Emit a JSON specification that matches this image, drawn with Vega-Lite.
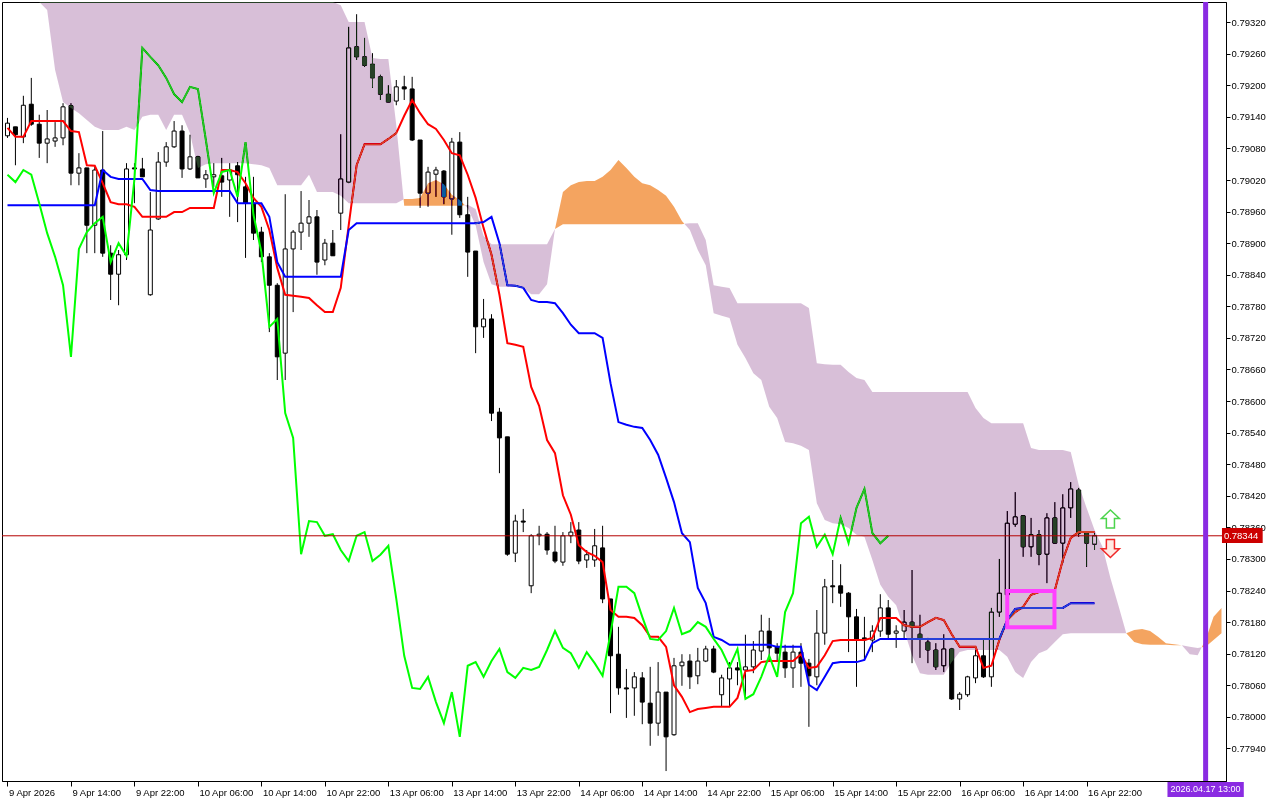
{
"$schema": "https://vega.github.io/schema/vega-lite/v6.json",
"width": 1224, "height": 779,
"autosize": {"type": "none"},
"padding": {"left": 2, "top": 2, "right": 54, "bottom": 19},
"background": "white",
"config": {
  "view": {"stroke": "black", "strokeWidth": 1},
  "axis": {"labelFont": "Liberation Sans", "labelFontSize": 9.5, "labelColor": "black", "tickColor": "black", "domainColor": "black", "grid": false, "title": null}
},
"datasets": {
"cd": [
{"i":0,"o":0.79104,"h":0.79138,"l":0.79100,"c":0.79128},
{"i":1,"o":0.79121,"h":0.79121,"l":0.79048,"c":0.79106},
{"i":2,"o":0.79102,"h":0.79180,"l":0.79090,"c":0.79162},
{"i":3,"o":0.79164,"h":0.79214,"l":0.79123,"c":0.79126},
{"i":4,"o":0.79126,"h":0.79144,"l":0.79062,"c":0.79090},
{"i":5,"o":0.79090,"h":0.79153,"l":0.79052,"c":0.79098},
{"i":6,"o":0.79094,"h":0.79130,"l":0.79083,"c":0.79100},
{"i":7,"o":0.79100,"h":0.79166,"l":0.79086,"c":0.79159},
{"i":8,"o":0.79161,"h":0.79166,"l":0.79010,"c":0.79033},
{"i":9,"o":0.79033,"h":0.79071,"l":0.79010,"c":0.79043},
{"i":10,"o":0.79043,"h":0.79043,"l":0.78881,"c":0.78934},
{"i":11,"o":0.78934,"h":0.79045,"l":0.78881,"c":0.79039},
{"i":12,"o":0.79039,"h":0.79113,"l":0.78874,"c":0.78881},
{"i":13,"o":0.78881,"h":0.78896,"l":0.78792,"c":0.78841},
{"i":14,"o":0.78841,"h":0.78887,"l":0.78782,"c":0.78878},
{"i":15,"o":0.78878,"h":0.79052,"l":0.78868,"c":0.79041},
{"i":16,"o":0.79043,"h":0.79052,"l":0.78976,"c":0.79041},
{"i":17,"o":0.79041,"h":0.79062,"l":0.79026,"c":0.79026},
{"i":18,"o":0.78802,"h":0.78997,"l":0.78800,"c":0.78925},
{"i":19,"o":0.78946,"h":0.79073,"l":0.78944,"c":0.79054},
{"i":20,"o":0.79054,"h":0.79092,"l":0.79045,"c":0.79083},
{"i":21,"o":0.79083,"h":0.79132,"l":0.79081,"c":0.79113},
{"i":22,"o":0.79113,"h":0.79124,"l":0.79024,"c":0.79041},
{"i":23,"o":0.79041,"h":0.79106,"l":0.79039,"c":0.79064},
{"i":24,"o":0.79064,"h":0.79066,"l":0.79024,"c":0.79024},
{"i":25,"o":0.79022,"h":0.79039,"l":0.79005,"c":0.79030},
{"i":26,"o":0.79026,"h":0.79052,"l":0.79007,"c":0.79030},
{"i":27,"o":0.79028,"h":0.79062,"l":0.78988,"c":0.79016},
{"i":28,"o":0.79020,"h":0.79052,"l":0.78950,"c":0.79039},
{"i":29,"o":0.79047,"h":0.79054,"l":0.78940,"c":0.79030},
{"i":30,"o":0.79007,"h":0.79026,"l":0.78872,"c":0.78976},
{"i":31,"o":0.78976,"h":0.79026,"l":0.78906,"c":0.78919},
{"i":32,"o":0.78921,"h":0.78931,"l":0.78864,"c":0.78874},
{"i":33,"o":0.78874,"h":0.78881,"l":0.78731,"c":0.78820},
{"i":34,"o":0.78820,"h":0.78824,"l":0.78640,"c":0.78684},
{"i":35,"o":0.78691,"h":0.78993,"l":0.78640,"c":0.78889},
{"i":36,"o":0.78889,"h":0.78925,"l":0.78769,"c":0.78921},
{"i":37,"o":0.78921,"h":0.78999,"l":0.78887,"c":0.78938},
{"i":38,"o":0.78938,"h":0.78982,"l":0.78912,"c":0.78950},
{"i":39,"o":0.78950,"h":0.78963,"l":0.78840,"c":0.78864},
{"i":40,"o":0.78868,"h":0.78908,"l":0.78858,"c":0.78900},
{"i":41,"o":0.78900,"h":0.78925,"l":0.78876,"c":0.78876},
{"i":42,"o":0.78957,"h":0.79107,"l":0.78925,"c":0.79022},
{"i":43,"o":0.79016,"h":0.79311,"l":0.79014,"c":0.79271},
{"i":44,"o":0.79273,"h":0.79335,"l":0.79248,"c":0.79254},
{"i":45,"o":0.79254,"h":0.79290,"l":0.79235,"c":0.79238},
{"i":46,"o":0.79240,"h":0.79261,"l":0.79195,"c":0.79214},
{"i":47,"o":0.79216,"h":0.79220,"l":0.79172,"c":0.79183},
{"i":48,"o":0.79183,"h":0.79200,"l":0.79168,"c":0.79168},
{"i":49,"o":0.79170,"h":0.79210,"l":0.79162,"c":0.79197},
{"i":50,"o":0.79197,"h":0.79218,"l":0.79172,"c":0.79193},
{"i":51,"o":0.79193,"h":0.79216,"l":0.79094,"c":0.79096},
{"i":52,"o":0.79096,"h":0.79096,"l":0.78967,"c":0.78995},
{"i":53,"o":0.78995,"h":0.79045,"l":0.78969,"c":0.79035},
{"i":54,"o":0.79031,"h":0.79045,"l":0.78988,"c":0.79039},
{"i":55,"o":0.79037,"h":0.79039,"l":0.78974,"c":0.78988},
{"i":56,"o":0.78984,"h":0.79100,"l":0.78916,"c":0.79092},
{"i":57,"o":0.79092,"h":0.79111,"l":0.78948,"c":0.78954},
{"i":58,"o":0.78954,"h":0.78988,"l":0.78836,"c":0.78883},
{"i":59,"o":0.78885,"h":0.78885,"l":0.78691,"c":0.78741},
{"i":60,"o":0.78741,"h":0.78794,"l":0.78720,"c":0.78756},
{"i":61,"o":0.78756,"h":0.78765,"l":0.78562,"c":0.78577},
{"i":62,"o":0.78579,"h":0.78587,"l":0.78463,"c":0.78530},
{"i":63,"o":0.78532,"h":0.78532,"l":0.78306,"c":0.78309},
{"i":64,"o":0.78311,"h":0.78384,"l":0.78294,"c":0.78372},
{"i":65,"o":0.78372,"h":0.78395,"l":0.78351,"c":0.78370},
{"i":66,"o":0.78249,"h":0.78347,"l":0.78235,"c":0.78344},
{"i":67,"o":0.78344,"h":0.78363,"l":0.78326,"c":0.78347},
{"i":68,"o":0.78347,"h":0.78351,"l":0.78308,"c":0.78317},
{"i":69,"o":0.78313,"h":0.78363,"l":0.78292,"c":0.78296},
{"i":70,"o":0.78294,"h":0.78351,"l":0.78287,"c":0.78344},
{"i":71,"o":0.78344,"h":0.78370,"l":0.78330,"c":0.78351},
{"i":72,"o":0.78355,"h":0.78370,"l":0.78290,"c":0.78296},
{"i":73,"o":0.78298,"h":0.78317,"l":0.78283,"c":0.78308},
{"i":74,"o":0.78298,"h":0.78357,"l":0.78285,"c":0.78325},
{"i":75,"o":0.78321,"h":0.78363,"l":0.78216,"c":0.78224},
{"i":76,"o":0.78224,"h":0.78224,"l":0.78007,"c":0.78116},
{"i":77,"o":0.78119,"h":0.78171,"l":0.78042,"c":0.78055},
{"i":78,"o":0.78055,"h":0.78091,"l":0.77998,"c":0.78053},
{"i":79,"o":0.78055,"h":0.78085,"l":0.78002,"c":0.78076},
{"i":80,"o":0.78074,"h":0.78085,"l":0.77986,"c":0.78028},
{"i":81,"o":0.78026,"h":0.78095,"l":0.77945,"c":0.77988},
{"i":82,"o":0.77988,"h":0.78104,"l":0.77964,"c":0.78047},
{"i":83,"o":0.78047,"h":0.78047,"l":0.77897,"c":0.77962},
{"i":84,"o":0.77966,"h":0.78112,"l":0.77964,"c":0.78097},
{"i":85,"o":0.78097,"h":0.78119,"l":0.78059,"c":0.78104},
{"i":86,"o":0.78106,"h":0.78119,"l":0.78053,"c":0.78076},
{"i":87,"o":0.78078,"h":0.78131,"l":0.78062,"c":0.78106},
{"i":88,"o":0.78106,"h":0.78135,"l":0.78104,"c":0.78129},
{"i":89,"o":0.78129,"h":0.78135,"l":0.78083,"c":0.78085},
{"i":90,"o":0.78042,"h":0.78080,"l":0.78019,"c":0.78074},
{"i":91,"o":0.78072,"h":0.78104,"l":0.78019,"c":0.78093},
{"i":92,"o":0.78093,"h":0.78104,"l":0.78060,"c":0.78089},
{"i":93,"o":0.78089,"h":0.78156,"l":0.78038,"c":0.78095},
{"i":94,"o":0.78095,"h":0.78144,"l":0.78083,"c":0.78127},
{"i":95,"o":0.78125,"h":0.78194,"l":0.78108,"c":0.78163},
{"i":96,"o":0.78163,"h":0.78188,"l":0.78108,"c":0.78131},
{"i":97,"o":0.78133,"h":0.78140,"l":0.78108,"c":0.78121},
{"i":98,"o":0.78123,"h":0.78137,"l":0.78074,"c":0.78093},
{"i":99,"o":0.78093,"h":0.78137,"l":0.78055,"c":0.78123},
{"i":100,"o":0.78123,"h":0.78140,"l":0.78057,"c":0.78102},
{"i":101,"o":0.78102,"h":0.78110,"l":0.77981,"c":0.78078},
{"i":102,"o":0.78076,"h":0.78203,"l":0.78060,"c":0.78159},
{"i":103,"o":0.78159,"h":0.78262,"l":0.78137,"c":0.78247},
{"i":104,"o":0.78249,"h":0.78298,"l":0.78216,"c":0.78247},
{"i":105,"o":0.78249,"h":0.78290,"l":0.78209,"c":0.78235},
{"i":106,"o":0.78235,"h":0.78237,"l":0.78123,"c":0.78190},
{"i":107,"o":0.78190,"h":0.78205,"l":0.78057,"c":0.78148},
{"i":108,"o":0.78150,"h":0.78190,"l":0.78108,"c":0.78146},
{"i":109,"o":0.78146,"h":0.78174,"l":0.78123,"c":0.78163},
{"i":110,"o":0.78163,"h":0.78233,"l":0.78152,"c":0.78207},
{"i":111,"o":0.78207,"h":0.78222,"l":0.78146,"c":0.78157},
{"i":112,"o":0.78159,"h":0.78174,"l":0.78131,"c":0.78163},
{"i":113,"o":0.78163,"h":0.78203,"l":0.78146,"c":0.78180},
{"i":114,"o":0.78180,"h":0.78279,"l":0.78102,"c":0.78171},
{"i":115,"o":0.78157,"h":0.78194,"l":0.78112,"c":0.78148},
{"i":116,"o":0.78142,"h":0.78150,"l":0.78102,"c":0.78127},
{"i":117,"o":0.78127,"h":0.78140,"l":0.78089,"c":0.78095},
{"i":118,"o":0.78097,"h":0.78157,"l":0.78085,"c":0.78129},
{"i":119,"o":0.78129,"h":0.78131,"l":0.78032,"c":0.78034},
{"i":120,"o":0.78034,"h":0.78047,"l":0.78013,"c":0.78043},
{"i":121,"o":0.78042,"h":0.78078,"l":0.78038,"c":0.78076},
{"i":122,"o":0.78074,"h":0.78127,"l":0.78064,"c":0.78116},
{"i":123,"o":0.78116,"h":0.78146,"l":0.78074,"c":0.78076},
{"i":124,"o":0.78076,"h":0.78207,"l":0.78057,"c":0.78199},
{"i":125,"o":0.78199,"h":0.78300,"l":0.78190,"c":0.78235},
{"i":126,"o":0.78232,"h":0.78391,"l":0.78222,"c":0.78368},
{"i":127,"o":0.78366,"h":0.78427,"l":0.78361,"c":0.78380},
{"i":128,"o":0.78382,"h":0.78382,"l":0.78304,"c":0.78323},
{"i":129,"o":0.78323,"h":0.78378,"l":0.78304,"c":0.78346},
{"i":130,"o":0.78346,"h":0.78355,"l":0.78288,"c":0.78309},
{"i":131,"o":0.78309,"h":0.78387,"l":0.78254,"c":0.78378},
{"i":132,"o":0.78378,"h":0.78408,"l":0.78330,"c":0.78330},
{"i":133,"o":0.78330,"h":0.78423,"l":0.78292,"c":0.78397},
{"i":134,"o":0.78397,"h":0.78446,"l":0.78378,"c":0.78433},
{"i":135,"o":0.78431,"h":0.78435,"l":0.78342,"c":0.78349},
{"i":136,"o":0.78349,"h":0.78349,"l":0.78285,"c":0.78330},
{"i":137,"o":0.78328,"h":0.78349,"l":0.78317,"c":0.78344}
],
"tk": [
{"i":0,"t":0.79119,"k":0.78972},{"i":1,"t":0.79102,"k":0.78972},{"i":2,"t":0.79102,"k":0.78972},{"i":3,"t":0.79132,"k":0.78972},
{"i":4,"t":0.79132,"k":0.78972},{"i":5,"t":0.79132,"k":0.78972},{"i":6,"t":0.79132,"k":0.78972},{"i":7,"t":0.79132,"k":0.78972},
{"i":8,"t":0.79113,"k":0.78972},{"i":9,"t":0.79111,"k":0.78972},{"i":10,"t":0.79048,"k":0.78972},{"i":11,"t":0.79047,"k":0.78972},
{"i":12,"t":0.79014,"k":0.79039},{"i":13,"t":0.78978,"k":0.79026},{"i":14,"t":0.78974,"k":0.79022},{"i":15,"t":0.78974,"k":0.79022},
{"i":16,"t":0.78969,"k":0.79022},{"i":17,"t":0.78950,"k":0.79022},{"i":18,"t":0.78950,"k":0.79001},{"i":19,"t":0.78950,"k":0.78999},
{"i":20,"t":0.78950,"k":0.78999},{"i":21,"t":0.78959,"k":0.78999},{"i":22,"t":0.78959,"k":0.78999},{"i":23,"t":0.78967,"k":0.78999},
{"i":24,"t":0.78967,"k":0.78999},{"i":25,"t":0.78967,"k":0.78999},{"i":26,"t":0.78967,"k":0.78999},{"i":27,"t":0.79039,"k":0.78999},
{"i":28,"t":0.79039,"k":0.78999},{"i":29,"t":0.79035,"k":0.78976},{"i":30,"t":0.79014,"k":0.78976},{"i":31,"t":0.78986,"k":0.78976},
{"i":32,"t":0.78969,"k":0.78976},{"i":33,"t":0.78925,"k":0.78950},{"i":34,"t":0.78853,"k":0.78864},{"i":35,"t":0.78802,"k":0.78836},
{"i":36,"t":0.78800,"k":0.78836},{"i":37,"t":0.78798,"k":0.78836},{"i":38,"t":0.78796,"k":0.78836},{"i":39,"t":0.78782,"k":0.78836},
{"i":40,"t":0.78769,"k":0.78836},{"i":41,"t":0.78769,"k":0.78836},{"i":42,"t":0.78815,"k":0.78836},{"i":43,"t":0.78934,"k":0.78925},
{"i":44,"t":0.79048,"k":0.78938},{"i":45,"t":0.79088,"k":0.78938},{"i":46,"t":0.79088,"k":0.78938},{"i":47,"t":0.79088,"k":0.78938},
{"i":48,"t":0.79098,"k":0.78938},{"i":49,"t":0.79109,"k":0.78938},{"i":50,"t":0.79142,"k":0.78938},{"i":51,"t":0.79172,"k":0.78938},
{"i":52,"t":0.79147,"k":0.78938},{"i":53,"t":0.79126,"k":0.78938},{"i":54,"t":0.79117,"k":0.78938},{"i":55,"t":0.79096,"k":0.78938},
{"i":56,"t":0.79071,"k":0.78938},{"i":57,"t":0.79067,"k":0.78938},{"i":58,"t":0.79030,"k":0.78938},{"i":59,"t":0.78986,"k":0.78938},
{"i":60,"t":0.78929,"k":0.78940},{"i":61,"t":0.78878,"k":0.78950},{"i":62,"t":0.78802,"k":0.78900},{"i":63,"t":0.78710,"k":0.78820},
{"i":64,"t":0.78707,"k":0.78819},{"i":65,"t":0.78703,"k":0.78815},{"i":66,"t":0.78627,"k":0.78792},{"i":67,"t":0.78591,"k":0.78788},
{"i":68,"t":0.78526,"k":0.78788},{"i":69,"t":0.78501,"k":0.78786},{"i":70,"t":0.78421,"k":0.78767},{"i":71,"t":0.78384,"k":0.78745},
{"i":72,"t":0.78326,"k":0.78729},{"i":73,"t":0.78313,"k":0.78729},{"i":74,"t":0.78306,"k":0.78729},{"i":75,"t":0.78294,"k":0.78720},
{"i":76,"t":0.78203,"k":0.78634},{"i":77,"t":0.78190,"k":0.78560},{"i":78,"t":0.78190,"k":0.78555},{"i":79,"t":0.78188,"k":0.78551},
{"i":80,"t":0.78174,"k":0.78549},{"i":81,"t":0.78152,"k":0.78526},{"i":82,"t":0.78152,"k":0.78498},{"i":83,"t":0.78133,"k":0.78454},
{"i":84,"t":0.78060,"k":0.78408},{"i":85,"t":0.78038,"k":0.78349},{"i":86,"t":0.78009,"k":0.78332},{"i":87,"t":0.78015,"k":0.78245},
{"i":88,"t":0.78017,"k":0.78216},{"i":89,"t":0.78019,"k":0.78152},{"i":90,"t":0.78019,"k":0.78146},{"i":91,"t":0.78019,"k":0.78137},
{"i":92,"t":0.78036,"k":0.78137},{"i":93,"t":0.78087,"k":0.78137},{"i":94,"t":0.78089,"k":0.78137},{"i":95,"t":0.78104,"k":0.78137},
{"i":96,"t":0.78106,"k":0.78137},{"i":97,"t":0.78106,"k":0.78133},{"i":98,"t":0.78106,"k":0.78133},{"i":99,"t":0.78106,"k":0.78133},
{"i":100,"t":0.78119,"k":0.78133},{"i":101,"t":0.78093,"k":0.78061},{"i":102,"t":0.78095,"k":0.78051},{"i":103,"t":0.78117,"k":0.78076},
{"i":104,"t":0.78144,"k":0.78102},{"i":105,"t":0.78146,"k":0.78104},{"i":106,"t":0.78146,"k":0.78104},{"i":107,"t":0.78146,"k":0.78104},
{"i":108,"t":0.78146,"k":0.78108},{"i":109,"t":0.78150,"k":0.78140},{"i":110,"t":0.78188,"k":0.78148},{"i":111,"t":0.78188,"k":0.78148},
{"i":112,"t":0.78188,"k":0.78148},{"i":113,"t":0.78174,"k":0.78148},{"i":114,"t":0.78171,"k":0.78148},{"i":115,"t":0.78171,"k":0.78148},
{"i":116,"t":0.78180,"k":0.78148},{"i":117,"t":0.78188,"k":0.78148},{"i":118,"t":0.78184,"k":0.78148},{"i":119,"t":0.78157,"k":0.78148},
{"i":120,"t":0.78133,"k":0.78148},{"i":121,"t":0.78133,"k":0.78148},{"i":122,"t":0.78133,"k":0.78148},{"i":123,"t":0.78093,"k":0.78148},
{"i":124,"t":0.78097,"k":0.78148},{"i":125,"t":0.78146,"k":0.78148},{"i":126,"t":0.78184,"k":0.78184},{"i":127,"t":0.78199,"k":0.78205},
{"i":128,"t":0.78209,"k":0.78207},{"i":129,"t":0.78232,"k":0.78207},{"i":130,"t":0.78237,"k":0.78207},{"i":131,"t":0.78239,"k":0.78207},
{"i":132,"t":0.78241,"k":0.78207},{"i":133,"t":0.78298,"k":0.78207},{"i":134,"t":0.78340,"k":0.78216},{"i":135,"t":0.78351,"k":0.78216},
{"i":136,"t":0.78351,"k":0.78216},{"i":137,"t":0.78351,"k":0.78216}
],
"ch": [
{"i":0,"v":0.79030},{"i":1,"v":0.79016},{"i":2,"v":0.79039},{"i":3,"v":0.79030},{"i":4,"v":0.78976},{"i":5,"v":0.78919},
{"i":6,"v":0.78874},{"i":7,"v":0.78820},{"i":8,"v":0.78684},{"i":9,"v":0.78889},{"i":10,"v":0.78921},{"i":11,"v":0.78938},
{"i":12,"v":0.78950},{"i":13,"v":0.78864},{"i":14,"v":0.78900},{"i":15,"v":0.78876},{"i":16,"v":0.79022},{"i":17,"v":0.79271},
{"i":18,"v":0.79254},{"i":19,"v":0.79238},{"i":20,"v":0.79214},{"i":21,"v":0.79183},{"i":22,"v":0.79168},{"i":23,"v":0.79197},
{"i":24,"v":0.79193},{"i":25,"v":0.79096},{"i":26,"v":0.78995},{"i":27,"v":0.79035},{"i":28,"v":0.79039},{"i":29,"v":0.78988},
{"i":30,"v":0.79092},{"i":31,"v":0.78954},{"i":32,"v":0.78883},{"i":33,"v":0.78741},{"i":34,"v":0.78756},{"i":35,"v":0.78577},
{"i":36,"v":0.78530},{"i":37,"v":0.78309},{"i":38,"v":0.78372},{"i":39,"v":0.78370},{"i":40,"v":0.78344},{"i":41,"v":0.78347},
{"i":42,"v":0.78317},{"i":43,"v":0.78296},{"i":44,"v":0.78344},{"i":45,"v":0.78351},{"i":46,"v":0.78296},{"i":47,"v":0.78308},
{"i":48,"v":0.78325},{"i":49,"v":0.78224},{"i":50,"v":0.78116},{"i":51,"v":0.78055},{"i":52,"v":0.78053},{"i":53,"v":0.78076},
{"i":54,"v":0.78028},{"i":55,"v":0.77988},{"i":56,"v":0.78047},{"i":57,"v":0.77962},{"i":58,"v":0.78097},{"i":59,"v":0.78104},
{"i":60,"v":0.78076},{"i":61,"v":0.78106},{"i":62,"v":0.78129},{"i":63,"v":0.78085},{"i":64,"v":0.78074},{"i":65,"v":0.78093},
{"i":66,"v":0.78089},{"i":67,"v":0.78095},{"i":68,"v":0.78127},{"i":69,"v":0.78163},{"i":70,"v":0.78131},{"i":71,"v":0.78121},
{"i":72,"v":0.78093},{"i":73,"v":0.78123},{"i":74,"v":0.78102},{"i":75,"v":0.78078},{"i":76,"v":0.78159},{"i":77,"v":0.78247},
{"i":78,"v":0.78247},{"i":79,"v":0.78235},{"i":80,"v":0.78190},{"i":81,"v":0.78148},{"i":82,"v":0.78146},{"i":83,"v":0.78163},
{"i":84,"v":0.78207},{"i":85,"v":0.78157},{"i":86,"v":0.78163},{"i":87,"v":0.78180},{"i":88,"v":0.78171},{"i":89,"v":0.78148},
{"i":90,"v":0.78127},{"i":91,"v":0.78095},{"i":92,"v":0.78129},{"i":93,"v":0.78034},{"i":94,"v":0.78043},{"i":95,"v":0.78076},
{"i":96,"v":0.78116},{"i":97,"v":0.78076},{"i":98,"v":0.78199},{"i":99,"v":0.78235},{"i":100,"v":0.78368},{"i":101,"v":0.78380},
{"i":102,"v":0.78323},{"i":103,"v":0.78346},{"i":104,"v":0.78309},{"i":105,"v":0.78378},{"i":106,"v":0.78330},{"i":107,"v":0.78397},
{"i":108,"v":0.78433},{"i":109,"v":0.78349},{"i":110,"v":0.78330},{"i":111,"v":0.78344}
],
"cl": [
{"s":1,"k":"B","i":0,"a":0.79358,"b":0.79358},{"s":1,"k":"B","i":1,"a":0.79358,"b":0.79358},{"s":1,"k":"B","i":2,"a":0.79358,"b":0.79358},
{"s":1,"k":"B","i":3,"a":0.79358,"b":0.79358},{"s":1,"k":"B","i":4,"a":0.79358,"b":0.79358},{"s":1,"k":"B","i":5,"a":0.79343,"b":0.79358},
{"s":1,"k":"B","i":6,"a":0.79229,"b":0.79358},{"s":1,"k":"B","i":7,"a":0.79168,"b":0.79358},{"s":1,"k":"B","i":8,"a":0.79157,"b":0.79358},
{"s":1,"k":"B","i":9,"a":0.79147,"b":0.79358},{"s":1,"k":"B","i":10,"a":0.79134,"b":0.79358},{"s":1,"k":"B","i":11,"a":0.79121,"b":0.79358},
{"s":1,"k":"B","i":12,"a":0.79115,"b":0.79358},{"s":1,"k":"B","i":13,"a":0.79115,"b":0.79358},{"s":1,"k":"B","i":14,"a":0.79115,"b":0.79358},
{"s":1,"k":"B","i":15,"a":0.79121,"b":0.79358},{"s":1,"k":"B","i":16,"a":0.79115,"b":0.79358},{"s":1,"k":"B","i":17,"a":0.79140,"b":0.79358},
{"s":1,"k":"B","i":18,"a":0.79144,"b":0.79358},{"s":1,"k":"B","i":19,"a":0.79144,"b":0.79358},{"s":1,"k":"B","i":20,"a":0.79115,"b":0.79358},
{"s":1,"k":"B","i":21,"a":0.79144,"b":0.79358},{"s":1,"k":"B","i":22,"a":0.79144,"b":0.79358},{"s":1,"k":"B","i":23,"a":0.79109,"b":0.79358},
{"s":1,"k":"B","i":24,"a":0.79043,"b":0.79358},{"s":1,"k":"B","i":25,"a":0.79050,"b":0.79358},{"s":1,"k":"B","i":26,"a":0.79052,"b":0.79358},
{"s":1,"k":"B","i":27,"a":0.79052,"b":0.79358},{"s":1,"k":"B","i":28,"a":0.79052,"b":0.79358},{"s":1,"k":"B","i":29,"a":0.79052,"b":0.79358},
{"s":1,"k":"B","i":30,"a":0.79052,"b":0.79358},{"s":1,"k":"B","i":31,"a":0.79050,"b":0.79358},{"s":1,"k":"B","i":32,"a":0.79048,"b":0.79358},
{"s":1,"k":"B","i":33,"a":0.79043,"b":0.79358},{"s":1,"k":"B","i":34,"a":0.79010,"b":0.79358},{"s":1,"k":"B","i":35,"a":0.79010,"b":0.79358},
{"s":1,"k":"B","i":36,"a":0.79010,"b":0.79358},{"s":1,"k":"B","i":37,"a":0.79010,"b":0.79358},{"s":1,"k":"B","i":38,"a":0.79030,"b":0.79358},
{"s":1,"k":"B","i":39,"a":0.78997,"b":0.79358},{"s":1,"k":"B","i":40,"a":0.78997,"b":0.79358},{"s":1,"k":"B","i":41,"a":0.78997,"b":0.79358},
{"s":1,"k":"B","i":42,"a":0.78990,"b":0.79352},{"s":1,"k":"B","i":43,"a":0.78976,"b":0.79320},{"s":1,"k":"B","i":44,"a":0.78976,"b":0.79320},
{"s":1,"k":"B","i":45,"a":0.78976,"b":0.79320},{"s":1,"k":"B","i":46,"a":0.78976,"b":0.79252},{"s":1,"k":"B","i":47,"a":0.78976,"b":0.79250},
{"s":1,"k":"B","i":48,"a":0.78976,"b":0.79250},{"s":1,"k":"B","i":49,"a":0.78976,"b":0.79124},{"s":1,"k":"B","i":49.92,"a":0.78983,"b":0.78983},
{"s":2,"k":"A","i":49.92,"a":0.78983,"b":0.78983},{"s":2,"k":"A","i":50,"a":0.78984,"b":0.78971},{"s":2,"k":"A","i":51,"a":0.78984,"b":0.78971},
{"s":2,"k":"A","i":52,"a":0.78986,"b":0.78971},{"s":2,"k":"A","i":53,"a":0.79014,"b":0.78971},{"s":2,"k":"A","i":54,"a":0.79020,"b":0.78971},
{"s":2,"k":"A","i":55,"a":0.79012,"b":0.78971},{"s":2,"k":"A","i":56,"a":0.78992,"b":0.78971},{"s":2,"k":"A","i":57,"a":0.78982,"b":0.78971},
{"s":2,"k":"A","i":57.65,"a":0.78972,"b":0.78972},
{"s":3,"k":"B","i":57.65,"a":0.78972,"b":0.78972},{"s":3,"k":"B","i":58,"a":0.78967,"b":0.78973},{"s":3,"k":"B","i":59,"a":0.78934,"b":0.78965},
{"s":3,"k":"B","i":60,"a":0.78864,"b":0.78914},{"s":3,"k":"B","i":61,"a":0.78822,"b":0.78898},{"s":3,"k":"B","i":62,"a":0.78817,"b":0.78898},
{"s":3,"k":"B","i":63,"a":0.78817,"b":0.78898},{"s":3,"k":"B","i":64,"a":0.78817,"b":0.78898},{"s":3,"k":"B","i":65,"a":0.78815,"b":0.78898},
{"s":3,"k":"B","i":66,"a":0.78803,"b":0.78898},{"s":3,"k":"B","i":67,"a":0.78803,"b":0.78898},{"s":3,"k":"B","i":68,"a":0.78822,"b":0.78898},
{"s":3,"k":"B","i":69,"a":0.78927,"b":0.78927},
{"s":4,"k":"A","i":69,"a":0.78927,"b":0.78927},{"s":4,"k":"A","i":70,"a":0.78997,"b":0.78936},{"s":4,"k":"A","i":71,"a":0.79010,"b":0.78936},
{"s":4,"k":"A","i":72,"a":0.79016,"b":0.78936},{"s":4,"k":"A","i":73,"a":0.79018,"b":0.78936},{"s":4,"k":"A","i":74,"a":0.79018,"b":0.78936},
{"s":4,"k":"A","i":75,"a":0.79026,"b":0.78936},{"s":4,"k":"A","i":76,"a":0.79039,"b":0.78936},{"s":4,"k":"A","i":77,"a":0.79058,"b":0.78936},
{"s":4,"k":"A","i":78,"a":0.79043,"b":0.78936},{"s":4,"k":"A","i":79,"a":0.79026,"b":0.78936},{"s":4,"k":"A","i":80,"a":0.79014,"b":0.78936},
{"s":4,"k":"A","i":81,"a":0.79010,"b":0.78936},{"s":4,"k":"A","i":82,"a":0.79001,"b":0.78936},{"s":4,"k":"A","i":83,"a":0.78990,"b":0.78936},
{"s":4,"k":"A","i":84,"a":0.78969,"b":0.78936},{"s":4,"k":"A","i":85,"a":0.78942,"b":0.78936},{"s":4,"k":"A","i":85.3,"a":0.78937,"b":0.78937},
{"s":5,"k":"B","i":85.3,"a":0.78937,"b":0.78937},{"s":5,"k":"B","i":86,"a":0.78925,"b":0.78938},{"s":5,"k":"B","i":87,"a":0.78887,"b":0.78938},
{"s":5,"k":"B","i":88,"a":0.78858,"b":0.78906},{"s":5,"k":"B","i":89,"a":0.78767,"b":0.78820},{"s":5,"k":"B","i":90,"a":0.78762,"b":0.78817},
{"s":5,"k":"B","i":91,"a":0.78758,"b":0.78815},{"s":5,"k":"B","i":92,"a":0.78707,"b":0.78786},{"s":5,"k":"B","i":93,"a":0.78682,"b":0.78786},
{"s":5,"k":"B","i":94,"a":0.78653,"b":0.78786},{"s":5,"k":"B","i":95,"a":0.78640,"b":0.78786},{"s":5,"k":"B","i":96,"a":0.78589,"b":0.78786},
{"s":5,"k":"B","i":97,"a":0.78568,"b":0.78786},{"s":5,"k":"B","i":98,"a":0.78522,"b":0.78786},{"s":5,"k":"B","i":99,"a":0.78520,"b":0.78786},
{"s":5,"k":"B","i":100,"a":0.78515,"b":0.78786},{"s":5,"k":"B","i":101,"a":0.78507,"b":0.78777},{"s":5,"k":"B","i":102,"a":0.78406,"b":0.78672},
{"s":5,"k":"B","i":103,"a":0.78374,"b":0.78670},{"s":5,"k":"B","i":104,"a":0.78368,"b":0.78669},{"s":5,"k":"B","i":105,"a":0.78366,"b":0.78669},
{"s":5,"k":"B","i":106,"a":0.78359,"b":0.78655},{"s":5,"k":"B","i":107,"a":0.78346,"b":0.78644},{"s":5,"k":"B","i":108,"a":0.78342,"b":0.78640},
{"s":5,"k":"B","i":109,"a":0.78298,"b":0.78617},{"s":5,"k":"B","i":110,"a":0.78251,"b":0.78617},{"s":5,"k":"B","i":111,"a":0.78228,"b":0.78617},
{"s":5,"k":"B","i":112,"a":0.78212,"b":0.78617},{"s":5,"k":"B","i":113,"a":0.78165,"b":0.78617},{"s":5,"k":"B","i":114,"a":0.78117,"b":0.78617},
{"s":5,"k":"B","i":115,"a":0.78083,"b":0.78617},{"s":5,"k":"B","i":116,"a":0.78080,"b":0.78617},{"s":5,"k":"B","i":117,"a":0.78080,"b":0.78617},
{"s":5,"k":"B","i":118,"a":0.78080,"b":0.78617},{"s":5,"k":"B","i":119,"a":0.78104,"b":0.78617},{"s":5,"k":"B","i":120,"a":0.78123,"b":0.78617},
{"s":5,"k":"B","i":121,"a":0.78127,"b":0.78617},{"s":5,"k":"B","i":122,"a":0.78127,"b":0.78587},{"s":5,"k":"B","i":123,"a":0.78127,"b":0.78568},
{"s":5,"k":"B","i":124,"a":0.78127,"b":0.78558},{"s":5,"k":"B","i":125,"a":0.78127,"b":0.78558},{"s":5,"k":"B","i":126,"a":0.78114,"b":0.78558},
{"s":5,"k":"B","i":127,"a":0.78085,"b":0.78558},{"s":5,"k":"B","i":128,"a":0.78074,"b":0.78558},{"s":5,"k":"B","i":129,"a":0.78104,"b":0.78511},
{"s":5,"k":"B","i":130,"a":0.78121,"b":0.78507},{"s":5,"k":"B","i":131,"a":0.78127,"b":0.78507},{"s":5,"k":"B","i":132,"a":0.78142,"b":0.78507},
{"s":5,"k":"B","i":133,"a":0.78157,"b":0.78507},{"s":5,"k":"B","i":134,"a":0.78159,"b":0.78503},{"s":5,"k":"B","i":135,"a":0.78159,"b":0.78441},
{"s":5,"k":"B","i":136,"a":0.78159,"b":0.78397},{"s":5,"k":"B","i":137,"a":0.78159,"b":0.78355},{"s":5,"k":"B","i":138,"a":0.78159,"b":0.78323},
{"s":5,"k":"B","i":139,"a":0.78159,"b":0.78264},{"s":5,"k":"B","i":140,"a":0.78159,"b":0.78212},{"s":5,"k":"B","i":141,"a":0.78159,"b":0.78159},
{"s":6,"k":"A","i":141,"a":0.78159,"b":0.78159},{"s":6,"k":"A","i":142,"a":0.78165,"b":0.78142},{"s":6,"k":"A","i":143,"a":0.78167,"b":0.78138},
{"s":6,"k":"A","i":144,"a":0.78163,"b":0.78137},{"s":6,"k":"A","i":145,"a":0.78152,"b":0.78137},{"s":6,"k":"A","i":146,"a":0.78140,"b":0.78137},
{"s":6,"k":"A","i":147,"a":0.78138,"b":0.78136},{"s":6,"k":"A","i":148,"a":0.78136,"b":0.78136},
{"s":7,"k":"B","i":148,"a":0.78136,"b":0.78136},{"s":7,"k":"B","i":149,"a":0.78119,"b":0.78133},{"s":7,"k":"B","i":150,"a":0.78117,"b":0.78131},
{"s":7,"k":"B","i":150.5,"a":0.78132,"b":0.78132},
{"s":8,"k":"A","i":150.5,"a":0.78132,"b":0.78132},{"s":8,"k":"A","i":151,"a":0.78146,"b":0.78133},{"s":8,"k":"A","i":152,"a":0.78190,"b":0.78146},
{"s":8,"k":"A","i":153,"a":0.78207,"b":0.78159}
]
},
"layer": [
{
  "data": {"name": "cd"},
  "mark": {"type": "rule", "color": "black", "strokeWidth": 1, "clip": true},
  "encoding": {
    "x": {"field": "i", "type": "quantitative", "scale": {"domain": [-0.0625, 152.9375], "nice": false, "zero": false},
      "axis": {"values": [0,8,16,24,32,40,48,56,64,72,80,88,96,104,112,120,128,136], "labelExpr": "['9 Apr 2026','9 Apr 14:00','9 Apr 22:00','10 Apr 06:00','10 Apr 14:00','10 Apr 22:00','13 Apr 06:00','13 Apr 14:00','13 Apr 22:00','14 Apr 06:00','14 Apr 14:00','14 Apr 22:00','15 Apr 06:00','15 Apr 14:00','15 Apr 22:00','16 Apr 06:00','16 Apr 14:00','16 Apr 22:00'][round(datum.value/8)]", "labelAlign": "left", "labelBaseline": "top", "labelPadding": 1, "labelOffset": 1, "tickSize": 5, "labelOverlap": false, "labelBound": false, "labelFlush": false, "title": null}},
    "y": {"field": "l", "type": "quantitative", "scale": {"domain": [0.778781, 0.793582], "nice": false, "zero": false},
      "axis": {"orient": "right", "values": [0.7794,0.78,0.7806,0.7812,0.7818,0.7824,0.783,0.7836,0.7842,0.7848,0.7854,0.786,0.7866,0.7872,0.7878,0.7884,0.789,0.7896,0.7902,0.7908,0.7914,0.792,0.7926,0.7932], "format": ".5f", "tickSize": 4, "labelPadding": 1, "labelOverlap": false, "labelBound": false, "labelFlush": false, "title": null}},
    "y2": {"field": "h"}
  }
},
{
  "data": {"name": "cd"},
  "mark": {"type": "bar", "width": 4, "stroke": "black", "strokeWidth": 1, "clip": true},
  "encoding": {
    "x": {"field": "i", "type": "quantitative", "scale": {"domain": [-0.0625, 152.9375], "nice": false, "zero": false},
      "axis": {"values": [0,8,16,24,32,40,48,56,64,72,80,88,96,104,112,120,128,136], "labelExpr": "['9 Apr 2026','9 Apr 14:00','9 Apr 22:00','10 Apr 06:00','10 Apr 14:00','10 Apr 22:00','13 Apr 06:00','13 Apr 14:00','13 Apr 22:00','14 Apr 06:00','14 Apr 14:00','14 Apr 22:00','15 Apr 06:00','15 Apr 14:00','15 Apr 22:00','16 Apr 06:00','16 Apr 14:00','16 Apr 22:00'][round(datum.value/8)]", "labelAlign": "left", "labelBaseline": "top", "labelPadding": 1, "labelOffset": 1, "tickSize": 5, "labelOverlap": false, "labelBound": false, "labelFlush": false, "title": null}},
    "y": {"field": "o", "type": "quantitative", "scale": {"domain": [0.778781, 0.793582], "nice": false, "zero": false},
      "axis": {"orient": "right", "values": [0.7794,0.78,0.7806,0.7812,0.7818,0.7824,0.783,0.7836,0.7842,0.7848,0.7854,0.786,0.7866,0.7872,0.7878,0.7884,0.789,0.7896,0.7902,0.7908,0.7914,0.792,0.7926,0.7932], "format": ".5f", "tickSize": 4, "labelPadding": 1, "labelOverlap": false, "labelBound": false, "labelFlush": false, "title": null}},
    "y2": {"field": "c"},
    "fill": {"condition": {"test": "datum.c > datum.o", "value": "white"}, "value": "black"}
  }
},
{
  "data": {"name": "tk"},
  "mark": {"type": "line", "color": "#FF0000", "strokeWidth": 2},
  "encoding": {
    "x": {"field": "i", "type": "quantitative", "scale": {"domain": [-0.0625, 152.9375], "nice": false, "zero": false},
      "axis": {"values": [0,8,16,24,32,40,48,56,64,72,80,88,96,104,112,120,128,136], "labelExpr": "['9 Apr 2026','9 Apr 14:00','9 Apr 22:00','10 Apr 06:00','10 Apr 14:00','10 Apr 22:00','13 Apr 06:00','13 Apr 14:00','13 Apr 22:00','14 Apr 06:00','14 Apr 14:00','14 Apr 22:00','15 Apr 06:00','15 Apr 14:00','15 Apr 22:00','16 Apr 06:00','16 Apr 14:00','16 Apr 22:00'][round(datum.value/8)]", "labelAlign": "left", "labelBaseline": "top", "labelPadding": 1, "labelOffset": 1, "tickSize": 5, "labelOverlap": false, "labelBound": false, "labelFlush": false, "title": null}},
    "y": {"field": "t", "type": "quantitative", "scale": {"domain": [0.778781, 0.793582], "nice": false, "zero": false},
      "axis": {"orient": "right", "values": [0.7794,0.78,0.7806,0.7812,0.7818,0.7824,0.783,0.7836,0.7842,0.7848,0.7854,0.786,0.7866,0.7872,0.7878,0.7884,0.789,0.7896,0.7902,0.7908,0.7914,0.792,0.7926,0.7932], "format": ".5f", "tickSize": 4, "labelPadding": 1, "labelOverlap": false, "labelBound": false, "labelFlush": false, "title": null}}
  }
},
{
  "data": {"name": "tk"},
  "mark": {"type": "line", "color": "#0000FF", "strokeWidth": 2},
  "encoding": {
    "x": {"field": "i", "type": "quantitative", "scale": {"domain": [-0.0625, 152.9375], "nice": false, "zero": false},
      "axis": {"values": [0,8,16,24,32,40,48,56,64,72,80,88,96,104,112,120,128,136], "labelExpr": "['9 Apr 2026','9 Apr 14:00','9 Apr 22:00','10 Apr 06:00','10 Apr 14:00','10 Apr 22:00','13 Apr 06:00','13 Apr 14:00','13 Apr 22:00','14 Apr 06:00','14 Apr 14:00','14 Apr 22:00','15 Apr 06:00','15 Apr 14:00','15 Apr 22:00','16 Apr 06:00','16 Apr 14:00','16 Apr 22:00'][round(datum.value/8)]", "labelAlign": "left", "labelBaseline": "top", "labelPadding": 1, "labelOffset": 1, "tickSize": 5, "labelOverlap": false, "labelBound": false, "labelFlush": false, "title": null}},
    "y": {"field": "k", "type": "quantitative", "scale": {"domain": [0.778781, 0.793582], "nice": false, "zero": false},
      "axis": {"orient": "right", "values": [0.7794,0.78,0.7806,0.7812,0.7818,0.7824,0.783,0.7836,0.7842,0.7848,0.7854,0.786,0.7866,0.7872,0.7878,0.7884,0.789,0.7896,0.7902,0.7908,0.7914,0.792,0.7926,0.7932], "format": ".5f", "tickSize": 4, "labelPadding": 1, "labelOverlap": false, "labelBound": false, "labelFlush": false, "title": null}}
  }
},
{
  "data": {"name": "ch"},
  "mark": {"type": "line", "color": "#00FF00", "strokeWidth": 2},
  "encoding": {
    "x": {"field": "i", "type": "quantitative", "scale": {"domain": [-0.0625, 152.9375], "nice": false, "zero": false},
      "axis": {"values": [0,8,16,24,32,40,48,56,64,72,80,88,96,104,112,120,128,136], "labelExpr": "['9 Apr 2026','9 Apr 14:00','9 Apr 22:00','10 Apr 06:00','10 Apr 14:00','10 Apr 22:00','13 Apr 06:00','13 Apr 14:00','13 Apr 22:00','14 Apr 06:00','14 Apr 14:00','14 Apr 22:00','15 Apr 06:00','15 Apr 14:00','15 Apr 22:00','16 Apr 06:00','16 Apr 14:00','16 Apr 22:00'][round(datum.value/8)]", "labelAlign": "left", "labelBaseline": "top", "labelPadding": 1, "labelOffset": 1, "tickSize": 5, "labelOverlap": false, "labelBound": false, "labelFlush": false, "title": null}},
    "y": {"field": "v", "type": "quantitative", "scale": {"domain": [0.778781, 0.793582], "nice": false, "zero": false},
      "axis": {"orient": "right", "values": [0.7794,0.78,0.7806,0.7812,0.7818,0.7824,0.783,0.7836,0.7842,0.7848,0.7854,0.786,0.7866,0.7872,0.7878,0.7884,0.789,0.7896,0.7902,0.7908,0.7914,0.792,0.7926,0.7932], "format": ".5f", "tickSize": 4, "labelPadding": 1, "labelOverlap": false, "labelBound": false, "labelFlush": false, "title": null}}
  }
},
{
  "data": {"name": "cl"},
  "mark": {"type": "area", "blend": "difference", "opacity": 1},
  "encoding": {
    "x": {"field": "i", "type": "quantitative", "scale": {"domain": [-0.0625, 152.9375], "nice": false, "zero": false},
      "axis": {"values": [0,8,16,24,32,40,48,56,64,72,80,88,96,104,112,120,128,136], "labelExpr": "['9 Apr 2026','9 Apr 14:00','9 Apr 22:00','10 Apr 06:00','10 Apr 14:00','10 Apr 22:00','13 Apr 06:00','13 Apr 14:00','13 Apr 22:00','14 Apr 06:00','14 Apr 14:00','14 Apr 22:00','15 Apr 06:00','15 Apr 14:00','15 Apr 22:00','16 Apr 06:00','16 Apr 14:00','16 Apr 22:00'][round(datum.value/8)]", "labelAlign": "left", "labelBaseline": "top", "labelPadding": 1, "labelOffset": 1, "tickSize": 5, "labelOverlap": false, "labelBound": false, "labelFlush": false, "title": null}},
    "y": {"field": "a", "type": "quantitative", "scale": {"domain": [0.778781, 0.793582], "nice": false, "zero": false},
      "axis": {"orient": "right", "values": [0.7794,0.78,0.7806,0.7812,0.7818,0.7824,0.783,0.7836,0.7842,0.7848,0.7854,0.786,0.7866,0.7872,0.7878,0.7884,0.789,0.7896,0.7902,0.7908,0.7914,0.792,0.7926,0.7932], "format": ".5f", "tickSize": 4, "labelPadding": 1, "labelOverlap": false, "labelBound": false, "labelFlush": false, "title": null}},
    "y2": {"field": "b"},
    "detail": {"field": "s", "type": "nominal"},
    "fill": {"condition": {"test": "datum.k == 'A'", "value": "#0B5B9F"}, "value": "#274027"}
  }
},
{
  "data": {"values": [{"p": 0.78344}]},
  "mark": {"type": "rule", "color": "#B40000", "strokeWidth": 1},
  "encoding": {
    "y": {"field": "p", "type": "quantitative", "scale": {"domain": [0.778781, 0.793582], "nice": false, "zero": false},
      "axis": {"orient": "right", "values": [0.7794,0.78,0.7806,0.7812,0.7818,0.7824,0.783,0.7836,0.7842,0.7848,0.7854,0.786,0.7866,0.7872,0.7878,0.7884,0.789,0.7896,0.7902,0.7908,0.7914,0.792,0.7926,0.7932], "format": ".5f", "tickSize": 4, "labelPadding": 1, "labelOverlap": false, "labelBound": false, "labelFlush": false, "title": null}}
  }
},
{
  "data": {"values": [{"i": 126, "i2": 131.95, "p": 0.78239, "p2": 0.78170}]},
  "mark": {"type": "rect", "fill": "white", "fillOpacity": 0, "stroke": "#FF40FF", "strokeWidth": 4},
  "encoding": {
    "x": {"field": "i", "type": "quantitative", "scale": {"domain": [-0.0625, 152.9375], "nice": false, "zero": false},
      "axis": {"values": [0,8,16,24,32,40,48,56,64,72,80,88,96,104,112,120,128,136], "labelExpr": "['9 Apr 2026','9 Apr 14:00','9 Apr 22:00','10 Apr 06:00','10 Apr 14:00','10 Apr 22:00','13 Apr 06:00','13 Apr 14:00','13 Apr 22:00','14 Apr 06:00','14 Apr 14:00','14 Apr 22:00','15 Apr 06:00','15 Apr 14:00','15 Apr 22:00','16 Apr 06:00','16 Apr 14:00','16 Apr 22:00'][round(datum.value/8)]", "labelAlign": "left", "labelBaseline": "top", "labelPadding": 1, "labelOffset": 1, "tickSize": 5, "labelOverlap": false, "labelBound": false, "labelFlush": false, "title": null}},
    "x2": {"field": "i2"},
    "y": {"field": "p", "type": "quantitative", "scale": {"domain": [0.778781, 0.793582], "nice": false, "zero": false},
      "axis": {"orient": "right", "values": [0.7794,0.78,0.7806,0.7812,0.7818,0.7824,0.783,0.7836,0.7842,0.7848,0.7854,0.786,0.7866,0.7872,0.7878,0.7884,0.789,0.7896,0.7902,0.7908,0.7914,0.792,0.7926,0.7932], "format": ".5f", "tickSize": 4, "labelPadding": 1, "labelOverlap": false, "labelBound": false, "labelFlush": false, "title": null}},
    "y2": {"field": "p2"}
  }
},
{
  "data": {"values": [{"i": 139, "p": 0.78376}]},
  "mark": {"type": "point", "shape": "M0,-1L1,-0.05L0.45,-0.05L0.45,1L-0.45,1L-0.45,-0.05L-1,-0.05Z", "size": 324, "filled": true, "fill": "white", "stroke": "#4CD44C", "strokeWidth": 1.5, "opacity": 1},
  "encoding": {
    "x": {"field": "i", "type": "quantitative", "scale": {"domain": [-0.0625, 152.9375], "nice": false, "zero": false},
      "axis": {"values": [0,8,16,24,32,40,48,56,64,72,80,88,96,104,112,120,128,136], "labelExpr": "['9 Apr 2026','9 Apr 14:00','9 Apr 22:00','10 Apr 06:00','10 Apr 14:00','10 Apr 22:00','13 Apr 06:00','13 Apr 14:00','13 Apr 22:00','14 Apr 06:00','14 Apr 14:00','14 Apr 22:00','15 Apr 06:00','15 Apr 14:00','15 Apr 22:00','16 Apr 06:00','16 Apr 14:00','16 Apr 22:00'][round(datum.value/8)]", "labelAlign": "left", "labelBaseline": "top", "labelPadding": 1, "labelOffset": 1, "tickSize": 5, "labelOverlap": false, "labelBound": false, "labelFlush": false, "title": null}},
    "y": {"field": "p", "type": "quantitative", "scale": {"domain": [0.778781, 0.793582], "nice": false, "zero": false},
      "axis": {"orient": "right", "values": [0.7794,0.78,0.7806,0.7812,0.7818,0.7824,0.783,0.7836,0.7842,0.7848,0.7854,0.786,0.7866,0.7872,0.7878,0.7884,0.789,0.7896,0.7902,0.7908,0.7914,0.792,0.7926,0.7932], "format": ".5f", "tickSize": 4, "labelPadding": 1, "labelOverlap": false, "labelBound": false, "labelFlush": false, "title": null}}
  }
},
{
  "data": {"values": [{"i": 139, "p": 0.78320}]},
  "mark": {"type": "point", "shape": "M0,1L1,0.05L0.45,0.05L0.45,-1L-0.45,-1L-0.45,0.05L-1,0.05Z", "size": 324, "filled": true, "fill": "#FFEAE4", "stroke": "#F02828", "strokeWidth": 1.5, "opacity": 1},
  "encoding": {
    "x": {"field": "i", "type": "quantitative", "scale": {"domain": [-0.0625, 152.9375], "nice": false, "zero": false},
      "axis": {"values": [0,8,16,24,32,40,48,56,64,72,80,88,96,104,112,120,128,136], "labelExpr": "['9 Apr 2026','9 Apr 14:00','9 Apr 22:00','10 Apr 06:00','10 Apr 14:00','10 Apr 22:00','13 Apr 06:00','13 Apr 14:00','13 Apr 22:00','14 Apr 06:00','14 Apr 14:00','14 Apr 22:00','15 Apr 06:00','15 Apr 14:00','15 Apr 22:00','16 Apr 06:00','16 Apr 14:00','16 Apr 22:00'][round(datum.value/8)]", "labelAlign": "left", "labelBaseline": "top", "labelPadding": 1, "labelOffset": 1, "tickSize": 5, "labelOverlap": false, "labelBound": false, "labelFlush": false, "title": null}},
    "y": {"field": "p", "type": "quantitative", "scale": {"domain": [0.778781, 0.793582], "nice": false, "zero": false},
      "axis": {"orient": "right", "values": [0.7794,0.78,0.7806,0.7812,0.7818,0.7824,0.783,0.7836,0.7842,0.7848,0.7854,0.786,0.7866,0.7872,0.7878,0.7884,0.789,0.7896,0.7902,0.7908,0.7914,0.792,0.7926,0.7932], "format": ".5f", "tickSize": 4, "labelPadding": 1, "labelOverlap": false, "labelBound": false, "labelFlush": false, "title": null}}
  }
},
{
  "data": {"values": [{"i": 151}]},
  "mark": {"type": "rule", "color": "#8A2BE2", "strokeWidth": 5},
  "encoding": {
    "x": {"field": "i", "type": "quantitative", "scale": {"domain": [-0.0625, 152.9375], "nice": false, "zero": false},
      "axis": {"values": [0,8,16,24,32,40,48,56,64,72,80,88,96,104,112,120,128,136], "labelExpr": "['9 Apr 2026','9 Apr 14:00','9 Apr 22:00','10 Apr 06:00','10 Apr 14:00','10 Apr 22:00','13 Apr 06:00','13 Apr 14:00','13 Apr 22:00','14 Apr 06:00','14 Apr 14:00','14 Apr 22:00','15 Apr 06:00','15 Apr 14:00','15 Apr 22:00','16 Apr 06:00','16 Apr 14:00','16 Apr 22:00'][round(datum.value/8)]", "labelAlign": "left", "labelBaseline": "top", "labelPadding": 1, "labelOffset": 1, "tickSize": 5, "labelOverlap": false, "labelBound": false, "labelFlush": false, "title": null}}
  }
},
{
  "data": {"values": [{"i": 153.06, "i2": 158.19, "p": 0.783588, "p2": 0.783303}]},
  "mark": {"type": "rect", "fill": "#CC0000"},
  "encoding": {
    "x": {"field": "i", "type": "quantitative", "scale": {"domain": [-0.0625, 152.9375], "nice": false, "zero": false},
      "axis": {"values": [0,8,16,24,32,40,48,56,64,72,80,88,96,104,112,120,128,136], "labelExpr": "['9 Apr 2026','9 Apr 14:00','9 Apr 22:00','10 Apr 06:00','10 Apr 14:00','10 Apr 22:00','13 Apr 06:00','13 Apr 14:00','13 Apr 22:00','14 Apr 06:00','14 Apr 14:00','14 Apr 22:00','15 Apr 06:00','15 Apr 14:00','15 Apr 22:00','16 Apr 06:00','16 Apr 14:00','16 Apr 22:00'][round(datum.value/8)]", "labelAlign": "left", "labelBaseline": "top", "labelPadding": 1, "labelOffset": 1, "tickSize": 5, "labelOverlap": false, "labelBound": false, "labelFlush": false, "title": null}},
    "x2": {"field": "i2"},
    "y": {"field": "p", "type": "quantitative", "scale": {"domain": [0.778781, 0.793582], "nice": false, "zero": false},
      "axis": {"orient": "right", "values": [0.7794,0.78,0.7806,0.7812,0.7818,0.7824,0.783,0.7836,0.7842,0.7848,0.7854,0.786,0.7866,0.7872,0.7878,0.7884,0.789,0.7896,0.7902,0.7908,0.7914,0.792,0.7926,0.7932], "format": ".5f", "tickSize": 4, "labelPadding": 1, "labelOverlap": false, "labelBound": false, "labelFlush": false, "title": null}},
    "y2": {"field": "p2"}
  }
},
{
  "data": {"values": [{"i": 153.3, "p": 0.78344, "t": "0.78344"}]},
  "mark": {"type": "text", "align": "left", "baseline": "middle", "color": "white", "font": "Liberation Sans", "fontSize": 9.5},
  "encoding": {
    "x": {"field": "i", "type": "quantitative", "scale": {"domain": [-0.0625, 152.9375], "nice": false, "zero": false},
      "axis": {"values": [0,8,16,24,32,40,48,56,64,72,80,88,96,104,112,120,128,136], "labelExpr": "['9 Apr 2026','9 Apr 14:00','9 Apr 22:00','10 Apr 06:00','10 Apr 14:00','10 Apr 22:00','13 Apr 06:00','13 Apr 14:00','13 Apr 22:00','14 Apr 06:00','14 Apr 14:00','14 Apr 22:00','15 Apr 06:00','15 Apr 14:00','15 Apr 22:00','16 Apr 06:00','16 Apr 14:00','16 Apr 22:00'][round(datum.value/8)]", "labelAlign": "left", "labelBaseline": "top", "labelPadding": 1, "labelOffset": 1, "tickSize": 5, "labelOverlap": false, "labelBound": false, "labelFlush": false, "title": null}},
    "y": {"field": "p", "type": "quantitative", "scale": {"domain": [0.778781, 0.793582], "nice": false, "zero": false},
      "axis": {"orient": "right", "values": [0.7794,0.78,0.7806,0.7812,0.7818,0.7824,0.783,0.7836,0.7842,0.7848,0.7854,0.786,0.7866,0.7872,0.7878,0.7884,0.789,0.7896,0.7902,0.7908,0.7914,0.792,0.7926,0.7932], "format": ".5f", "tickSize": 4, "labelPadding": 1, "labelOverlap": false, "labelBound": false, "labelFlush": false, "title": null}},
    "text": {"field": "t"}
  }
},
{
  "data": {"values": [{"i": 146.19, "i2": 155.81, "p": 0.778762, "p2": 0.778477}]},
  "mark": {"type": "rect", "fill": "#8A2BE2"},
  "encoding": {
    "x": {"field": "i", "type": "quantitative", "scale": {"domain": [-0.0625, 152.9375], "nice": false, "zero": false},
      "axis": {"values": [0,8,16,24,32,40,48,56,64,72,80,88,96,104,112,120,128,136], "labelExpr": "['9 Apr 2026','9 Apr 14:00','9 Apr 22:00','10 Apr 06:00','10 Apr 14:00','10 Apr 22:00','13 Apr 06:00','13 Apr 14:00','13 Apr 22:00','14 Apr 06:00','14 Apr 14:00','14 Apr 22:00','15 Apr 06:00','15 Apr 14:00','15 Apr 22:00','16 Apr 06:00','16 Apr 14:00','16 Apr 22:00'][round(datum.value/8)]", "labelAlign": "left", "labelBaseline": "top", "labelPadding": 1, "labelOffset": 1, "tickSize": 5, "labelOverlap": false, "labelBound": false, "labelFlush": false, "title": null}},
    "x2": {"field": "i2"},
    "y": {"field": "p", "type": "quantitative", "scale": {"domain": [0.778781, 0.793582], "nice": false, "zero": false},
      "axis": {"orient": "right", "values": [0.7794,0.78,0.7806,0.7812,0.7818,0.7824,0.783,0.7836,0.7842,0.7848,0.7854,0.786,0.7866,0.7872,0.7878,0.7884,0.789,0.7896,0.7902,0.7908,0.7914,0.792,0.7926,0.7932], "format": ".5f", "tickSize": 4, "labelPadding": 1, "labelOverlap": false, "labelBound": false, "labelFlush": false, "title": null}},
    "y2": {"field": "p2"}
  }
},
{
  "data": {"values": [{"i": 146.56, "p": 0.77862, "t": "2026.04.17 13:00"}]},
  "mark": {"type": "text", "align": "left", "baseline": "middle", "color": "white", "font": "Liberation Sans", "fontSize": 9},
  "encoding": {
    "x": {"field": "i", "type": "quantitative", "scale": {"domain": [-0.0625, 152.9375], "nice": false, "zero": false},
      "axis": {"values": [0,8,16,24,32,40,48,56,64,72,80,88,96,104,112,120,128,136], "labelExpr": "['9 Apr 2026','9 Apr 14:00','9 Apr 22:00','10 Apr 06:00','10 Apr 14:00','10 Apr 22:00','13 Apr 06:00','13 Apr 14:00','13 Apr 22:00','14 Apr 06:00','14 Apr 14:00','14 Apr 22:00','15 Apr 06:00','15 Apr 14:00','15 Apr 22:00','16 Apr 06:00','16 Apr 14:00','16 Apr 22:00'][round(datum.value/8)]", "labelAlign": "left", "labelBaseline": "top", "labelPadding": 1, "labelOffset": 1, "tickSize": 5, "labelOverlap": false, "labelBound": false, "labelFlush": false, "title": null}},
    "y": {"field": "p", "type": "quantitative", "scale": {"domain": [0.778781, 0.793582], "nice": false, "zero": false},
      "axis": {"orient": "right", "values": [0.7794,0.78,0.7806,0.7812,0.7818,0.7824,0.783,0.7836,0.7842,0.7848,0.7854,0.786,0.7866,0.7872,0.7878,0.7884,0.789,0.7896,0.7902,0.7908,0.7914,0.792,0.7926,0.7932], "format": ".5f", "tickSize": 4, "labelPadding": 1, "labelOverlap": false, "labelBound": false, "labelFlush": false, "title": null}},
    "text": {"field": "t"}
  }
}
]
}
